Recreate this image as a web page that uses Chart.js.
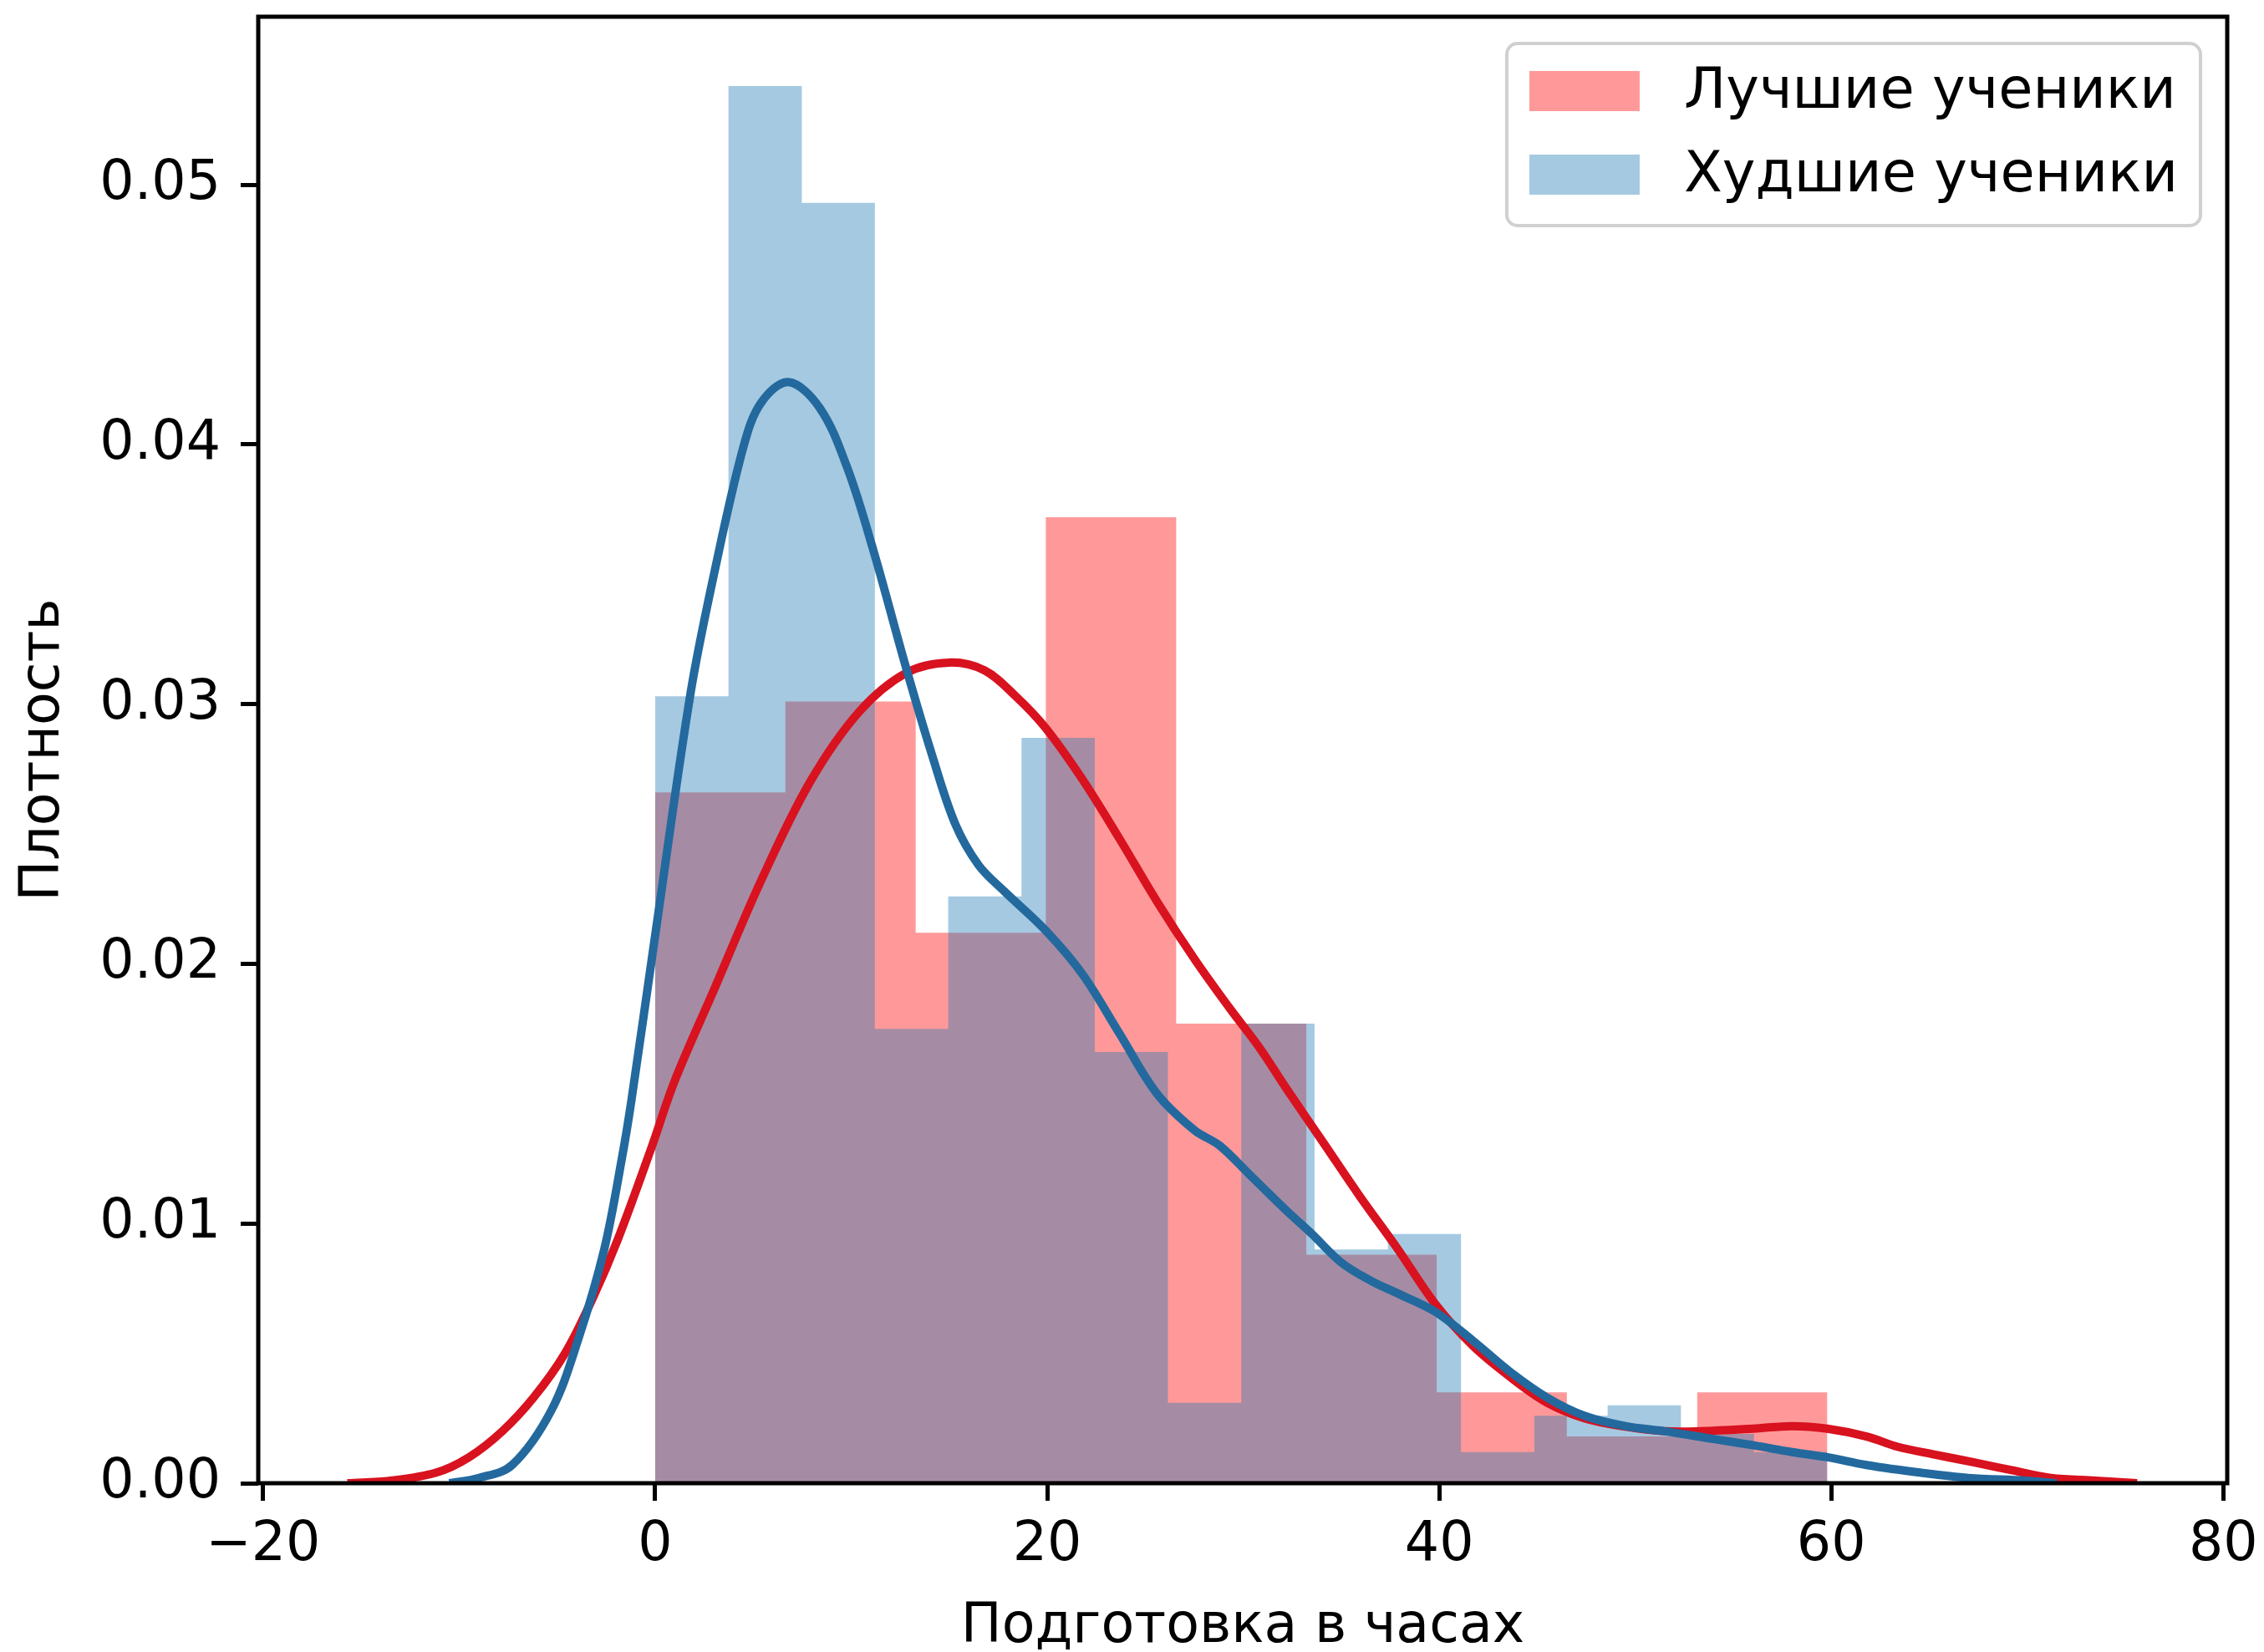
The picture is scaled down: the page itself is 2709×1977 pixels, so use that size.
<!DOCTYPE html>
<html>
<head>
<meta charset="utf-8">
<script src="https://cdn.jsdelivr.net/npm/chart.js@4.4.1/dist/chart.umd.min.js"></script>
<style>
    html, body { margin: 0; padding: 0; background: #fff; }
    #wrap { width: 2709px; height: 1977px; }
</style>
</head>
<body>
<div id="wrap"><canvas id="distChart"></canvas></div>
<script>
    // histogram bins (density)
    const bestEdges = [0, 6.64, 13.29, 19.93, 26.58, 33.22, 39.87, 46.51, 53.16, 59.8];
    const bestDensity = [0.0266, 0.0301, 0.0212, 0.0372, 0.0177, 0.0088, 0.0035, 0.0018, 0.0035];
    const worstEdges = [0, 3.74, 7.48, 11.21, 14.95, 18.69, 22.43, 26.16, 29.9, 33.64, 37.38, 41.11, 44.85, 48.59, 52.33, 56.06, 59.8];
    const worstDensity = [0.0303, 0.0538, 0.0493, 0.0175, 0.0226, 0.0287, 0.0166, 0.0031, 0.0177, 0.0090, 0.0096, 0.0012, 0.0026, 0.0030, 0.0019, 0.0012];

    // KDE curves
    const bestKdeX = [-15.7, -13.5, -11.2, -9.5, -7.8, -6.2, -4.6, -3.2, -1.9, -0.2, 1.0, 3.0, 5.4, 7.9, 10.4, 12.8, 15.0, 16.8, 18.4, 19.9, 21.8, 23.7, 25.6, 27.5, 29.3, 30.8, 32.2, 34.1, 35.9, 37.9, 39.8, 41.7, 43.6, 45.5, 47.4, 49.3, 51.5, 53.3, 56.0, 58.0, 59.8, 61.8, 63.4, 65.3, 67.3, 69.2, 71.2, 73.5, 75.6];
    const bestKdeY = [0, 0.0001, 0.0004, 0.0010, 0.0020, 0.0033, 0.0050, 0.0071, 0.0094, 0.0129, 0.0155, 0.0190, 0.0232, 0.0270, 0.0297, 0.0312, 0.0316, 0.0313, 0.0303, 0.0291, 0.0271, 0.0248, 0.0224, 0.0202, 0.0183, 0.0168, 0.0152, 0.0131, 0.0111, 0.0090, 0.0069, 0.0053, 0.0041, 0.0031, 0.0025, 0.0022, 0.0020, 0.0020, 0.0021, 0.0022, 0.0021, 0.0018, 0.0014, 0.0011, 0.0008, 0.0005, 0.0002, 0.0001, 0];
    const worstKdeX = [-10.5, -9.0, -7.3, -5.3, -3.9, -2.6, -1.7, -1.2, 0.0, 1.8, 3.0, 4.5, 5.4, 6.8, 8.4, 9.8, 11.1, 12.8, 14.1, 15.3, 16.5, 17.8, 19.9, 21.8, 23.7, 25.6, 27.5, 28.8, 30.3, 32.2, 33.5, 35.0, 36.5, 37.9, 39.8, 41.7, 43.6, 45.5, 47.4, 49.5, 51.5, 54.0, 56.1, 58.0, 59.8, 61.8, 64.6, 67.0, 69.9, 71.5];
    const worstKdeY = [0, 0.0002, 0.0007, 0.0028, 0.0056, 0.0090, 0.0125, 0.0148, 0.0211, 0.0304, 0.0350, 0.0399, 0.0416, 0.0424, 0.0414, 0.0391, 0.0360, 0.0314, 0.0281, 0.0254, 0.0238, 0.0228, 0.0213, 0.0196, 0.0173, 0.0150, 0.0136, 0.0130, 0.0119, 0.0105, 0.0096, 0.0085, 0.0078, 0.0073, 0.0066, 0.0055, 0.0043, 0.0033, 0.0026, 0.0022, 0.0020, 0.0017, 0.00145, 0.0012, 0.0010, 0.0007, 0.0004, 0.0002, 0.0001, 0];

    const seriesLabels = ['Лучшие ученики', 'Худшие ученики'];
    const xTicks = [-20, 0, 20, 40, 60, 80];
    const yTicks = [0, 0.01, 0.02, 0.03, 0.04, 0.05];

    const redFill = 'rgba(255, 0, 0, 0.4)';
    const blueFill = 'rgba(31, 119, 180, 0.4)';

    function histPoints(edges, dens) {
        const pts = dens.map((d, i) => ({ x: edges[i], y: d }));
        pts.push({ x: edges[edges.length - 1], y: dens[dens.length - 1] });
        return pts;
    }

    function kdePoints(xs, ys) {
        return xs.map((x, i) => ({ x: x, y: ys[i] }));
    }

    // axes frame on all four sides
    const framePlugin = {
        id: 'frame',
        afterDatasetsDraw(chart) {
            const { ctx, chartArea: a } = chart;
            ctx.save();
            ctx.strokeStyle = '#000';
            ctx.lineWidth = 5;
            ctx.strokeRect(a.left, a.top, a.right - a.left, a.bottom - a.top);
            ctx.restore();
        }
    };

    // matplotlib-like legend box in the upper right corner
    const legendPlugin = {
        id: 'boxLegend',
        afterDraw(chart) {
            const { ctx, chartArea: a } = chart;
            const fs = 67;
            ctx.save();
            ctx.font = fs + 'px "DejaVu Sans"';
            const textW = Math.max(...seriesLabels.map(t => ctx.measureText(t).width));
            const w = 27 + 132 + 53 + textW + 27;
            const h = 218;
            const right = a.right - 32;
            const top = a.top + 32;
            const left = right - w;

            ctx.beginPath();
            ctx.roundRect(left, top, w, h, 13);
            ctx.fillStyle = 'rgba(255,255,255,0.8)';
            ctx.fill();
            ctx.strokeStyle = '#d0d0d0';
            ctx.lineWidth = 4;
            ctx.stroke();

            const colors = [redFill, blueFill];
            seriesLabels.forEach((label, i) => {
                const cy = top + 57 + i * 100;
                ctx.fillStyle = colors[i];
                ctx.fillRect(left + 27, cy - 24, 132, 48);
                ctx.fillStyle = '#000';
                ctx.textBaseline = 'middle';
                ctx.textAlign = 'left';
                ctx.fillText(label, left + 27 + 132 + 53, cy + 3);
            });
            ctx.restore();
        }
    };

    Chart.defaults.font.family = '"DejaVu Sans"';
    Chart.defaults.font.size = 65;
    Chart.defaults.color = '#000';

    const ctx = document.getElementById('distChart').getContext('2d');
    new Chart(ctx, {
        type: 'line',
        data: {
            datasets: [
                {
                    label: seriesLabels[0],
                    data: histPoints(bestEdges, bestDensity),
                    stepped: 'before',
                    fill: 'origin',
                    backgroundColor: redFill,
                    borderColor: 'rgba(0,0,0,0)',
                    borderWidth: 0,
                    pointRadius: 0,
                    order: 4
                },
                {
                    label: seriesLabels[1],
                    data: histPoints(worstEdges, worstDensity),
                    stepped: 'before',
                    fill: 'origin',
                    backgroundColor: blueFill,
                    borderColor: 'rgba(0,0,0,0)',
                    borderWidth: 0,
                    pointRadius: 0,
                    order: 3
                },
                {
                    label: seriesLabels[0] + ' KDE',
                    data: kdePoints(bestKdeX, bestKdeY),
                    borderColor: '#d8121f',
                    borderWidth: 10,
                    pointRadius: 0,
                    fill: false,
                    tension: 0.35,
                    order: 2
                },
                {
                    label: seriesLabels[1] + ' KDE',
                    data: kdePoints(worstKdeX, worstKdeY),
                    borderColor: '#23699e',
                    borderWidth: 10,
                    pointRadius: 0,
                    fill: false,
                    tension: 0.35,
                    order: 1
                }
            ]
        },
        options: {
            responsive: true,
            maintainAspectRatio: false,
            devicePixelRatio: 1,
            animation: false,
            layout: { padding: { left: 0, top: 20, right: 44, bottom: 0 } },
            plugins: {
                legend: { display: false },
                tooltip: { enabled: false }
            },
            scales: {
                x: {
                    type: 'linear',
                    min: -20.25,
                    max: 80.2,
                    afterBuildTicks: s => { s.ticks = xTicks.map(v => ({ value: v })); },
                    afterFit: s => { s.height = 202; s.paddingLeft = 0; s.paddingRight = 0; },
                    ticks: {
                        padding: 22,
                        maxRotation: 0,
                        autoSkip: false,
                        font: { size: 65, lineHeight: 1 },
                        callback: v => v < 0 ? '\u2212' + Math.abs(v) : String(v)
                    },
                    grid: { display: true, drawOnChartArea: false, drawTicks: true, tickLength: 21, tickWidth: 5, tickColor: '#000' },
                    border: { display: false },
                    title: {
                        display: true,
                        text: 'Подготовка в часах',
                        font: { size: 65, lineHeight: 0.9 },
                        padding: { top: 0, bottom: 0 }
                    }
                },
                y: {
                    min: 0,
                    max: 0.05647,
                    afterBuildTicks: s => { s.ticks = yTicks.map(v => ({ value: v })); },
                    afterFit: s => { s.width = 309; s.paddingTop = 0; s.paddingBottom = 0; },
                    ticks: {
                        padding: 24,
                        autoSkip: false,
                        font: { size: 65, lineHeight: 1 },
                        callback: v => v.toFixed(2)
                    },
                    grid: { display: true, drawOnChartArea: false, drawTicks: true, tickLength: 21, tickWidth: 5, tickColor: '#000' },
                    border: { display: false },
                    title: {
                        display: true,
                        text: 'Плотность',
                        font: { size: 65, lineHeight: 0.9 },
                        padding: { top: 24, bottom: 0 }
                    }
                }
            }
        },
        plugins: [framePlugin, legendPlugin]
    });
</script>
</body>
</html>
